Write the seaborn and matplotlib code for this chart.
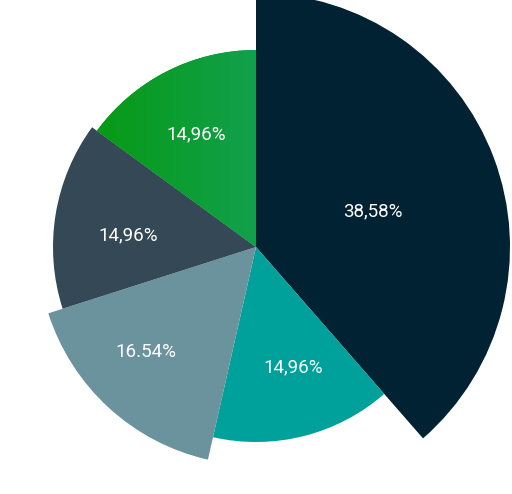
import numpy as np
import matplotlib.pyplot as plt
import seaborn as sns
from matplotlib.colors import LinearSegmentedColormap
from matplotlib.path import Path
from matplotlib.transforms import IdentityTransform

sns.set_style("white")
plt.rcParams['font.family'] = ['Roboto', 'DejaVu Sans']

# slices clockwise from 12 o'clock
shares = [38.58, 14.96, 16.54, 14.96, 14.96]
radii = [254, 195, 218, 203, 197]
labels = ['38,58%', '14,96%', '16.54%', '14,96%', '14,96%']
label_dist = [122, 126, 152, 128, 127]
label_shift = [3.5, -3, 4, -4, -1]  # degrees
colors = ['#012232', '#00a19a', '#6b939e', '#344955', '#0a9a1a']

W, H = 512, 494
cx, cy, R = 256, 247, 255
fig = plt.figure(figsize=(W / 100, H / 100), dpi=100)
ax = fig.add_axes([(cx - R) / W, (H - cy - R) / H, 2 * R / W, 2 * R / H],
                  projection='polar')
ax.set_theta_zero_location('N')
ax.set_theta_direction(-1)

widths = np.array(shares) / sum(shares) * 2 * np.pi
starts = np.concatenate([[0], np.cumsum(widths)[:-1]])
bars = ax.bar(starts, radii, width=widths, align='edge', color=colors,
              linewidth=0)
ax.set_ylim(0, R)
ax.set_axis_off()

# overlay axes for the gradient on the green slice and the labels
top = fig.add_axes([0, 0, 1, 1])
top.set_xlim(0, W)
top.set_ylim(0, H)
top.set_axis_off()
top.patch.set_alpha(0)
cmap = LinearSegmentedColormap.from_list('g', ['#069a12', '#12a04e'])
gx = np.linspace(0, 1, 256).reshape(1, -1)
im = top.imshow(gx, cmap=cmap, extent=[90, 258, 0, H], aspect='auto')

fig.canvas.draw()
th = np.linspace(starts[-1], starts[-1] + widths[-1], 200)
pts = np.column_stack([np.concatenate([[0], th, [0]]),
                       np.concatenate([[0], np.full(200, radii[-1]), [0]])])
disp = ax.transData.transform(pts)
im.set_clip_path(Path(disp, closed=True), IdentityTransform())

for s, w, lab, d, sh in zip(starts, widths, labels, label_dist, label_shift):
    top.text(s + w / 2 + np.deg2rad(sh), d, lab, transform=ax.transData,
             ha='center', va='center', color='white', fontsize=13.5)

fig.savefig('out.png', dpi=100)
